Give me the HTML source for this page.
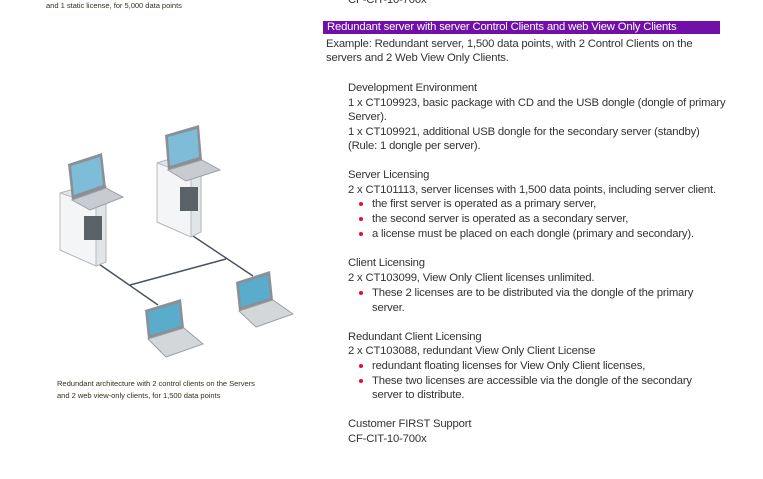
<!DOCTYPE html>
<html><head><meta charset="utf-8"><style>
body{margin:0;width:763px;height:479px;background:#fff;position:relative;overflow:hidden;font-family:"Liberation Sans",sans-serif;color:#333}
.l{position:absolute;white-space:nowrap;font-size:11.3px;letter-spacing:-0.18px;line-height:14px;margin-top:1px}
.s{position:absolute;white-space:nowrap;font-size:7.6px;color:#3a3020;letter-spacing:-0.05px}
.b{position:absolute;width:4px;height:4px;border-radius:50%;background:#e0103a;margin-top:1px}
</style></head><body>
<div class="s" style="left:46px;top:1px">and 1 static license, for 5,000 data points</div>
<div class="l" style="left:348px;top:-8px">CF-CIT-10-700x</div>
<div style="position:absolute;left:323px;top:21px;width:397px;height:13px;background:#7010a8"></div>
<div class="l" style="left:327px;top:19px;color:#fff">Redundant server with server Control Clients and web View Only Clients</div>
<div class="l" style="left:326px;top:36px">Example: Redundant server, 1,500 data points, with 2 Control Clients on the</div>
<div class="l" style="left:326px;top:50px">servers and 2 Web View Only Clients.</div>
<div class="l" style="left:348px;top:80px">Development Environment</div>
<div class="l" style="left:348px;top:95px">1 x CT109923, basic package with CD and the USB dongle (dongle of primary</div>
<div class="l" style="left:348px;top:109px">Server).</div>
<div class="l" style="left:348px;top:124px">1 x CT109921, additional USB dongle for the secondary server (standby)</div>
<div class="l" style="left:348px;top:138px">(Rule: 1 dongle per server).</div>
<div class="l" style="left:348px;top:167px">Server Licensing</div>
<div class="l" style="left:348px;top:182px">2 x CT101113, server licenses with 1,500 data points, including server client.</div>
<div class="b" style="left:359px;top:201px"></div><div class="l" style="left:372px;top:196px">the first server is operated as a primary server,</div>
<div class="b" style="left:359px;top:216px"></div><div class="l" style="left:372px;top:211px">the second server is operated as a secondary server,</div>
<div class="b" style="left:359px;top:231px"></div><div class="l" style="left:372px;top:226px">a license must be placed on each dongle (primary and secondary).</div>
<div class="l" style="left:348px;top:255px">Client Licensing</div>
<div class="l" style="left:348px;top:270px">2 x CT103099, View Only Client licenses unlimited.</div>
<div class="b" style="left:359px;top:290px"></div><div class="l" style="left:372px;top:285px">These 2 licenses are to be distributed via the dongle of the primary</div>
<div class="l" style="left:372px;top:300px">server.</div>
<div class="l" style="left:348px;top:329px">Redundant Client Licensing</div>
<div class="l" style="left:348px;top:343px">2 x CT103088, redundant View Only Client License</div>
<div class="b" style="left:359px;top:363px"></div><div class="l" style="left:372px;top:358px">redundant floating licenses for View Only Client licenses,</div>
<div class="b" style="left:359px;top:378px"></div><div class="l" style="left:372px;top:373px">These two licenses are accessible via the dongle of the secondary</div>
<div class="l" style="left:372px;top:387px">server to distribute.</div>
<div class="l" style="left:348px;top:416px">Customer FIRST Support</div>
<div class="l" style="left:348px;top:431px">CF-CIT-10-700x</div>
<div class="s" style="left:57px;top:379px">Redundant architecture with 2 control clients on the Servers</div>
<div class="s" style="left:57px;top:391px">and 2 web view-only clients, for 1,500 data points</div>
<svg style="position:absolute;left:0;top:0" width="320" height="400">
<g stroke="#4a5560" stroke-width="1.5" fill="none">
<line x1="96" y1="262" x2="158" y2="305"/><line x1="130" y1="285" x2="226" y2="259"/><line x1="193" y1="236" x2="253" y2="276"/></g>
<polygon points="60,193 98,182 106,186 106,262 96,266 60,250" fill="#e2e5e8" stroke="#b0b4b8"/>
<polygon points="60,193 96,205 96,266 60,250" fill="#f4f5f6" stroke="#b8bcc0"/>
<rect x="84" y="216" width="18" height="24" fill="#5a6268"/>
<polygon points="68,164 102,153 106,188 72,200" fill="#8a9096"/>
<polygon points="71,166 100,157 103,185 74,195" fill="#7fbcd8"/>
<polygon points="72,200 106,188 123,197 90,210" fill="#c8ccd0" stroke="#9aa0a6"/>
<polygon points="157,163 192,152 201,157 201,232 191,237 157,222" fill="#e2e5e8" stroke="#b0b4b8"/>
<polygon points="157,163 191,175 191,237 157,222" fill="#f4f5f6" stroke="#b8bcc0"/>
<rect x="180" y="187" width="18" height="24" fill="#5a6268"/>
<polygon points="165,135 199,125 202,160 168,170" fill="#8a9096"/>
<polygon points="168,137 197,129 199,157 170,166" fill="#7fbcd8"/>
<polygon points="168,170 202,160 220,170 186,181" fill="#c8ccd0" stroke="#9aa0a6"/>
<polygon points="145,310 181,299 184,328 148,339" fill="#8a9096"/>
<polygon points="148,312 179,303 181,326 150,335" fill="#5aaccc"/>
<polygon points="148,339 184,328 203,344 166,357" fill="#d4d7da" stroke="#9aa0a6"/>
<polygon points="236,282 270,271 273,300 239,311" fill="#8a9096"/>
<polygon points="239,284 268,275 270,298 241,307" fill="#5aaccc"/>
<polygon points="239,311 273,300 293,314 256,327" fill="#d4d7da" stroke="#9aa0a6"/>
</svg>
</body></html>
